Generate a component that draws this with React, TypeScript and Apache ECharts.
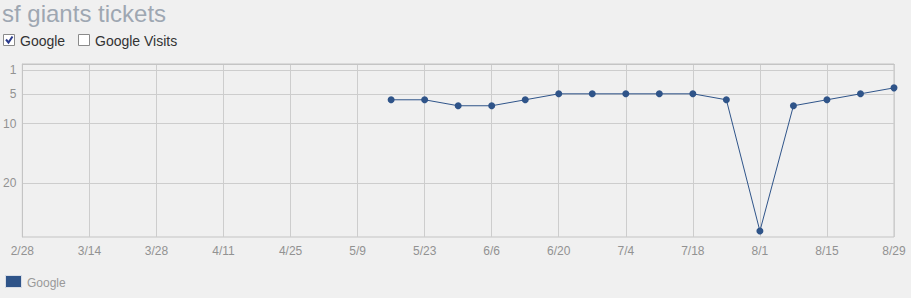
import React, { useEffect, useRef } from "react";
import * as echarts from "echarts";

const title = "sf giants tickets";
const checkboxLabels = ["Google", "Google Visits"];
const checkboxChecked = [true, false];
const seriesName = "Google";
const year = 2010;
const axisStart = "2/28";
const axisEnd = "8/29";
const weekDates = ["5/16", "5/23", "5/30", "6/6", "6/13", "6/20", "6/27", "7/4", "7/11", "7/18", "7/25", "8/1", "8/8", "8/15", "8/22", "8/29"];
const googleValues = [6, 6, 7, 7, 6, 5, 5, 5, 5, 5, 6, 28, 7, 6, 5, 4];
const yTickValues = [1, 5, 10, 20];
const yMin = 0;
const yMax = 29;
const xTickStepDays = 14;

const DAY = 86400000;
const toTime = (s: string) => {
  const [m, d] = s.split("/").map(Number);
  return Date.UTC(year, m - 1, d);
};
const startT = toTime(axisStart);
const toDay = (s: string) => Math.round((toTime(s) - startT) / DAY);
const dayLabel = (day: number) => {
  const dt = new Date(startT + day * DAY);
  return `${dt.getUTCMonth() + 1}/${dt.getUTCDate()}`;
};

const LINE = "#2f5489";

export default function App() {
  const ref = useRef<HTMLDivElement>(null);
  useEffect(() => {
    if (!ref.current) return;
    const chart = echarts.init(ref.current, undefined, { renderer: "svg" });
    const data = weekDates.map((d, i) => [toDay(d), googleValues[i]]);
    const checkboxGraphics: any[] = [];
    let cx = 3;
    checkboxLabels.forEach((lab, i) => {
      checkboxGraphics.push({
        type: "rect",
        shape: { x: cx + 0.5, y: 34.5, width: 11, height: 11 },
        style: { fill: "#fff", stroke: "#8a8a8a", lineWidth: 1 },
      });
      if (checkboxChecked[i]) {
        checkboxGraphics.push({
          type: "polyline",
          shape: { points: [[cx + 3, 39.5], [cx + 5.5, 42.5], [cx + 9.5, 36.5]] },
          style: { fill: "none", stroke: "#2a3a8c", lineWidth: 2 },
        });
      }
      checkboxGraphics.push({
        type: "text",
        x: cx + 17,
        y: 41,
        style: { text: lab, fill: "#333", font: "14px Arial, 'Liberation Sans', sans-serif", verticalAlign: "middle" },
      });
      cx += i === 0 ? 75 : 0;
    });
    chart.setOption({
      animation: false,
      backgroundColor: "#f0f0f0",
      grid: {
        left: 21,
        right: 17,
        top: 64,
        bottom: 61,
        show: true,
        borderColor: "#c4c4c4",
        borderWidth: 1,
        backgroundColor: "transparent",
      },
      xAxis: {
        type: "value",
        min: 0,
        max: toDay(axisEnd),
        interval: xTickStepDays,
        axisLine: { show: true, lineStyle: { color: "#c4c4c4" } },
        axisTick: { show: false },
        splitLine: { show: true, lineStyle: { color: "#cdcdcd", width: 1 } },
        axisLabel: {
          formatter: (v: number) => dayLabel(v),
          color: "#929292",
          fontSize: 12,
          fontFamily: "Arial, 'Liberation Sans', sans-serif",
          margin: 8,
          showMinLabel: true,
          showMaxLabel: true,
        },
      },
      yAxis: {
        type: "value",
        inverse: true,
        min: yMin,
        max: yMax,
        axisLine: { show: true, lineStyle: { color: "#c4c4c4" } },
        axisTick: { show: false, customValues: yTickValues },
        splitLine: { show: true, lineStyle: { color: "#cdcdcd", width: 1 } },
        axisLabel: {
          customValues: yTickValues,
          color: "#929292",
          fontSize: 12,
          fontFamily: "Arial, 'Liberation Sans', sans-serif",
          margin: 6,
        },
      },
      series: [
        {
          name: seriesName,
          type: "line",
          data,
          symbol: "circle",
          symbolSize: 7,
          itemStyle: { color: LINE },
          lineStyle: { color: LINE, width: 1 },
        },
      ],
      graphic: [
        {
          type: "text",
          x: 2,
          y: 13,
          style: { text: title, fill: "#9ea7b2", font: "24px Arial, 'Liberation Sans', sans-serif", verticalAlign: "middle" },
        },
        ...checkboxGraphics,
        {
          type: "rect",
          shape: { x: 5.5, y: 275.5, width: 16, height: 12 },
          style: { fill: LINE, stroke: "#d8dde6", lineWidth: 1 },
        },
        {
          type: "text",
          x: 27,
          y: 283,
          style: { text: seriesName, fill: "#999", font: "12px Arial, 'Liberation Sans', sans-serif", verticalAlign: "middle" },
        },
      ],
    });
    return () => chart.dispose();
  }, []);
  return <div ref={ref} style={{ width: 911, height: 298, position: "absolute", left: 0, top: 0 }} />;
}
